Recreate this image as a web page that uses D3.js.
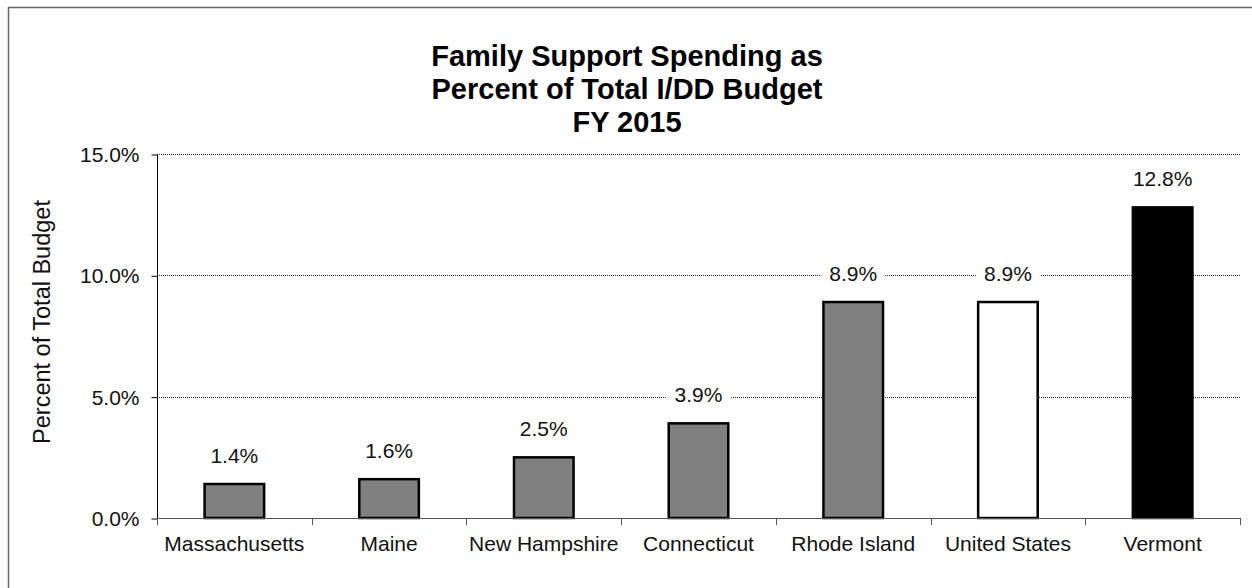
<!DOCTYPE html>
<html>
<head>
<meta charset="utf-8">
<script src="https://cdn.jsdelivr.net/npm/d3@7"></script>
<style>
  body { margin: 0; background: #fff; }
  svg { display: block; font-family: "Liberation Sans", Arial, sans-serif; }
</style>
</head>
<body>
<svg id="chart" width="1252" height="588"></svg>
<script>
// chart data
var categories = ["Massachusetts", "Maine", "New Hampshire", "Connecticut", "Rhode Island", "United States", "Vermont"];
var values = [1.4, 1.6, 2.5, 3.9, 8.9, 8.9, 12.8];
var yTicks = [0, 5, 10, 15];

var svg = d3.select("#chart");

// plot area (window.top is reserved, so plot* names)
var plotLeft = 157, plotRight = 1240, plotTop = 154, plotBottom = 518;

// outer frame
svg.append("rect")
  .attr("x", 8.5).attr("y", 7.5)
  .attr("width", 1260).attr("height", 600)
  .attr("fill", "none")
  .attr("stroke", "#666")
  .attr("stroke-width", 1.5);

var x = d3.scaleBand().domain(categories).range([plotLeft, plotRight]).padding(0);
var y = d3.scaleLinear().domain([0, 15]).range([plotBottom, plotTop]);

// gridlines (dotted)
svg.append("g")
  .selectAll("line")
  .data(yTicks.filter(function(d) { return d > 0; }))
  .enter().append("line")
  .attr("x1", plotLeft).attr("x2", plotRight)
  .attr("y1", function(d) { return Math.round(y(d)) + 0.5; })
  .attr("y2", function(d) { return Math.round(y(d)) + 0.5; })
  .attr("stroke", "#333")
  .attr("stroke-width", 1)
  .attr("stroke-dasharray", "1,1");

// y axis
var yAxis = d3.axisLeft(y)
  .tickValues(yTicks)
  .tickSize(6)
  .tickPadding(12)
  .tickFormat(function(d) { return d.toFixed(1) + "%"; });

var yg = svg.append("g")
  .attr("transform", "translate(" + (plotLeft + 0.5) + ",0.5)")
  .call(yAxis);
yg.select(".domain").attr("stroke", "#000").attr("d", "M0," + plotTop + "V" + plotBottom);
yg.selectAll(".tick line").attr("stroke", "#000");
yg.selectAll(".tick text")
  .attr("font-size", 21)
  .attr("dy", null)
  .attr("y", 7)
  .attr("fill", "#111")
  .attr("font-family", "Liberation Sans, Arial, sans-serif");

// bars
var bw = x.bandwidth();
var fillFor = function(name) {
  if (name === "Vermont") return "#000";
  if (name === "United States") return "#fff";
  return "#808080";
};

svg.append("g")
  .selectAll("rect")
  .data(values)
  .enter().append("rect")
  .attr("x", function(d, i) { return x(categories[i]) + bw * 0.3075; })
  .attr("width", bw * 0.385)
  .attr("y", function(d) { return y(d); })
  .attr("height", function(d) { return y(0) - y(d); })
  .attr("fill", function(d, i) { return fillFor(categories[i]); })
  .attr("stroke", "#000")
  .attr("stroke-width", 2.5);

// x axis line with boundary ticks
var xg = svg.append("g");
xg.append("line")
  .attr("x1", plotLeft).attr("x2", plotRight)
  .attr("y1", plotBottom + 0.5).attr("y2", plotBottom + 0.5)
  .attr("stroke", "#555");
var bounds = categories.map(function(c) { return x(c); }).concat([plotRight]);
xg.selectAll(".xt")
  .data(bounds)
  .enter().append("line")
  .attr("class", "xt")
  .attr("x1", function(d) { return Math.round(d) + 0.5; })
  .attr("x2", function(d) { return Math.round(d) + 0.5; })
  .attr("y1", plotBottom).attr("y2", plotBottom + 7)
  .attr("stroke", "#555");

xg.selectAll(".xl")
  .data(categories)
  .enter().append("text")
  .attr("class", "xl")
  .attr("x", function(d) { return x(d) + bw / 2; })
  .attr("y", 551)
  .attr("text-anchor", "middle")
  .attr("font-size", 21)
  .attr("fill", "#111")
  .text(function(d) { return d; });

// data labels with white background (cuts gridlines)
var lab = svg.append("g")
  .selectAll("g")
  .data(values)
  .enter().append("g")
  .attr("transform", function(d, i) {
    return "translate(" + (x(categories[i]) + bw / 2) + "," + (y(d) - 21) + ")";
  });
lab.append("text")
  .attr("text-anchor", "middle")
  .attr("font-size", 21)
  .attr("fill", "#111")
  .text(function(d) { return d.toFixed(1) + "%"; });
lab.each(function() {
  var g = d3.select(this);
  var b = g.select("text").node().getBBox();
  g.insert("rect", "text")
    .attr("x", b.x - 8).attr("y", b.y - 2)
    .attr("width", b.width + 16).attr("height", b.height + 4)
    .attr("fill", "#fff");
});

// y axis title
svg.append("text")
  .attr("transform", "translate(50,322) rotate(-90)")
  .attr("text-anchor", "middle")
  .attr("font-size", 23.5)
  .attr("fill", "#111")
  .text("Percent of Total Budget");

// chart title
var titleLines = ["Family Support Spending as", "Percent of Total I/DD Budget", "FY 2015"];
svg.append("g")
  .selectAll("text")
  .data(titleLines)
  .enter().append("text")
  .attr("x", 627)
  .attr("y", function(d, i) { return 66 + i * 33; })
  .attr("text-anchor", "middle")
  .attr("font-size", 29)
  .attr("font-weight", "bold")
  .attr("fill", "#000")
  .text(function(d) { return d; });
</script>
</body>
</html>
